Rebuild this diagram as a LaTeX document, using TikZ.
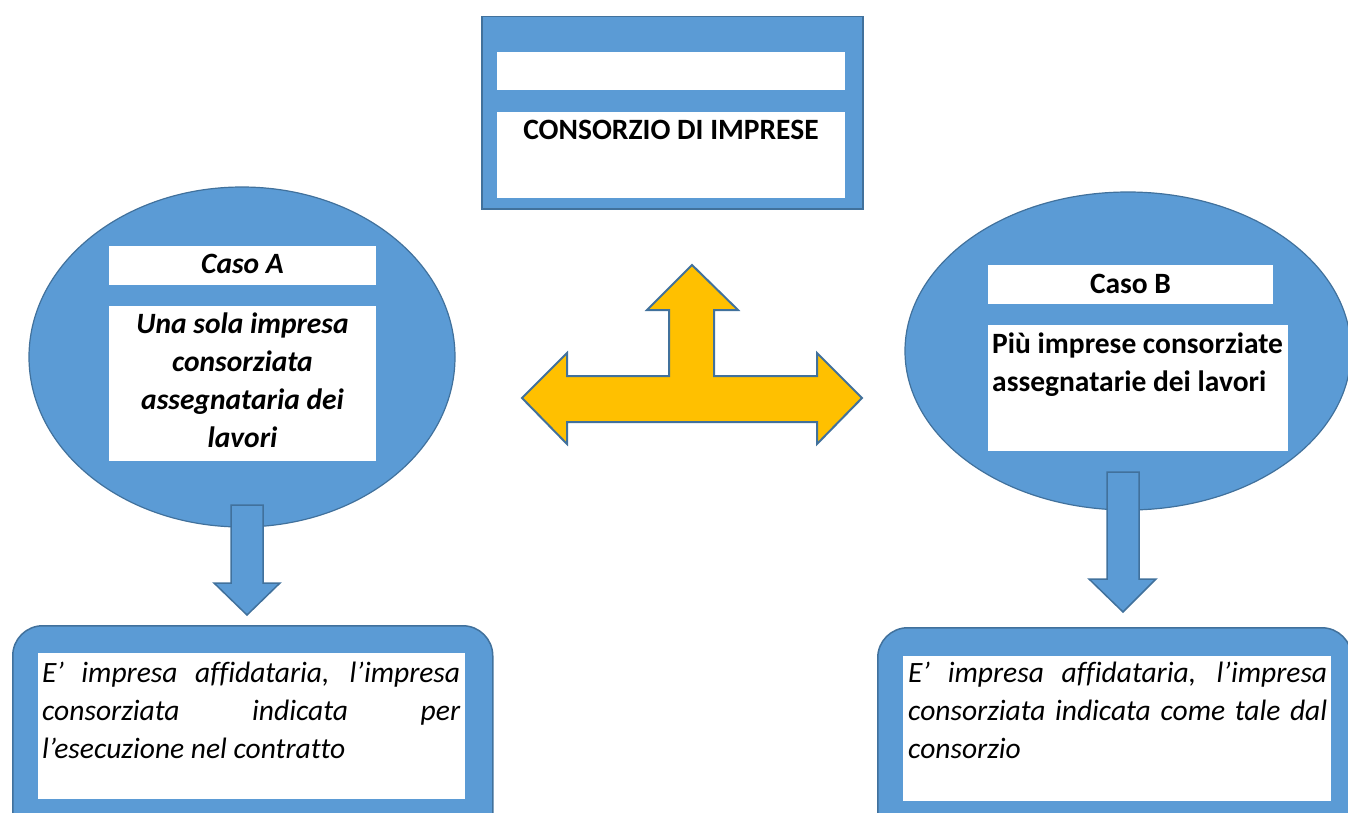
\documentclass[tikz,border=0pt]{standalone}
\usepackage{fontspec}
\setmainfont{Carlito}[Ligatures=NoCommon]
\usetikzlibrary{shapes.geometric,positioning}
\definecolor{ofblue}{HTML}{5B9BD5}
\definecolor{edgeblue}{HTML}{41719C}
\definecolor{ofgold}{HTML}{FFC000}
\newcommand{\dsize}{\fontsize{29.5}{38}\selectfont}

\begin{document}
\begin{tikzpicture}[x=1pt,y=-1pt,
	blob/.style={ellipse,draw=edgeblue,line width=1.2pt,fill=ofblue,inner sep=0pt},
	frame/.style={rectangle,draw=edgeblue,line width=1.5pt,fill=ofblue,inner sep=0pt,anchor=north west},
	panel/.style={rectangle,fill=white,inner sep=0pt,anchor=north west},
	txt/.style={inner sep=0pt,font=\dsize},
	chunk/.style={draw=edgeblue,line width=1.5pt,fill=ofblue,line join=miter}]
	\useasboundingbox (0,0) rectangle (1348,813);

	% consorzio
	\node[frame,minimum width=381pt,minimum height=192pt] (cons) at (481,16) {};
	\node[panel,minimum width=348pt,minimum height=38pt] (blank) at (497,52) {};
	\node[panel,minimum width=348pt,minimum height=86pt] (consbox) at (497,112) {};
	\node[txt,anchor=base,font=\dsize\bfseries] (constxt) at (671,140) {CONSORZIO DI IMPRESE};

	% caso A
	\node[blob,minimum width=426pt,minimum height=340pt] (ovalA) at (242,357) {};
	\node[panel,minimum width=267pt,minimum height=39pt] (casoA) at (109,246) {};
	\node[txt,anchor=base,font=\dsize\bfseries\itshape] (casoAtxt) at (242.5,273) {Caso A};
	\node[panel,minimum width=267pt,minimum height=155pt] (descA) at (109,306) {};
	\node[txt,anchor=base,text width=267pt,align=flush center,font=\dsize\bfseries\itshape] (descAtxt) at (242.5,333)
		{Una sola impresa\\consorziata\\assegnataria dei\\lavori};

	% caso B
	\node[blob,minimum width=446pt,minimum height=318pt] (ovalB) at (1128,351) {};
	\node[panel,minimum width=285pt,minimum height=39pt] (casoB) at (988,265) {};
	\node[txt,anchor=base,font=\dsize\bfseries] (casoBtxt) at (1130.5,293) {Caso B};
	\node[panel,minimum width=300pt,minimum height=126pt] (descB) at (988,325) {};
	\node[txt,anchor=base west,text width=294pt,align=flush left,font=\dsize\bfseries] (descBtxt) at (992,353)
		{Più imprese consorziate\\assegnatarie dei lavori};

	% frecce in basso
	\draw[chunk] (231,505) -- (263,505) -- (263,583) -- (280,583) -- (247,615) -- (214,583) -- (231,583) -- cycle;
	\draw[chunk] (1107,472) -- (1139,472) -- (1139,579) -- (1156,579) -- (1123,612) -- (1089,579) -- (1107,579) -- cycle;

	% freccia a tre vie
	\draw[draw=edgeblue,line width=2pt,fill=ofgold,line join=miter]
		(522,398) -- (567,353) -- (567,376) -- (669,376) -- (669,310) -- (647,310) -- (692,265)
		-- (738,310) -- (714,310) -- (714,376) -- (817,376) -- (817,353) -- (862,398)
		-- (817,444) -- (817,422) -- (567,422) -- (567,444) -- cycle;

	% esiti
	\node[frame,rounded corners=30pt,minimum width=480pt,minimum height=230pt] (resA) at (12,625) {};
	\node[panel,minimum width=427pt,minimum height=146pt] (resAbox) at (38,653) {};
	\node[txt,anchor=base west,text width=418pt,align=justify,font=\dsize\itshape] (resAtxt) at (42,682)
		{E’ impresa affidataria, l’impresa\linebreak consorziata indicata per\linebreak l’esecuzione nel contratto};

	\node[frame,rounded corners=30pt,minimum width=474pt,minimum height=230pt] (resB) at (877,627) {};
	\node[panel,minimum width=428pt,minimum height=145pt] (resBbox) at (903,656) {};
	\node[txt,anchor=base west,text width=419pt,align=justify,font=\dsize\itshape] (resBtxt) at (908,682)
		{E’ impresa affidataria, l’impresa\linebreak consorziata indicata come tale dal\linebreak consorzio};
\end{tikzpicture}
\end{document}
